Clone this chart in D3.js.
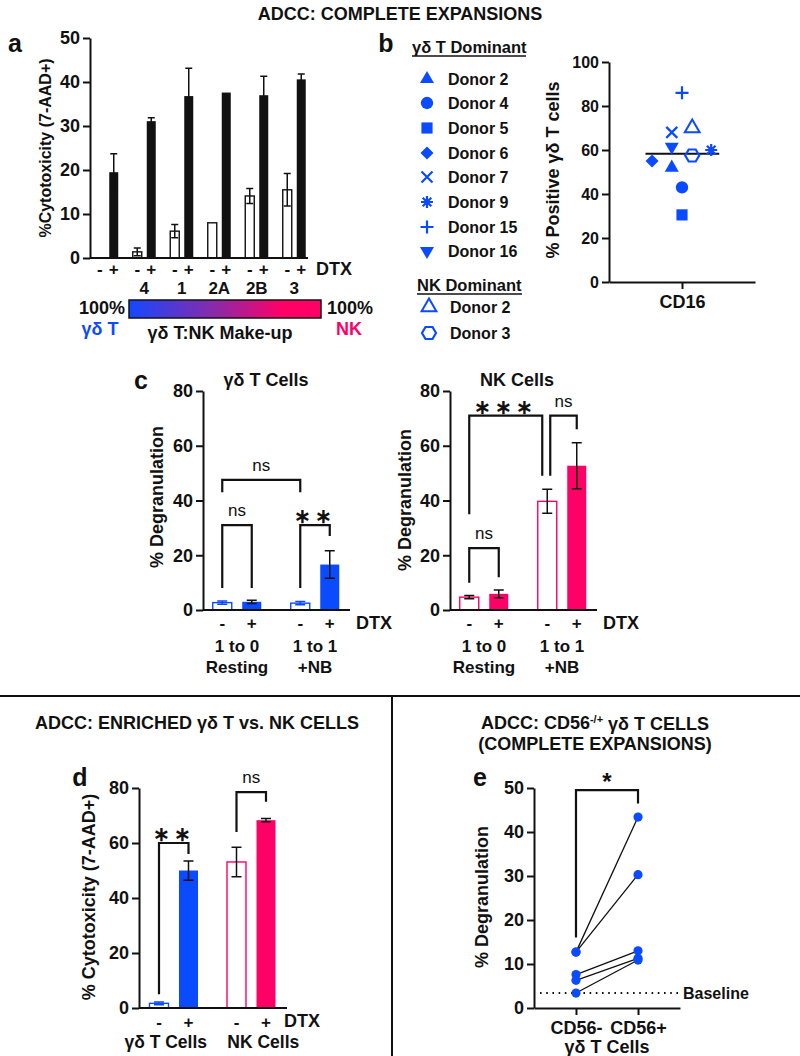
<!DOCTYPE html>
<html>
<head>
<meta charset="utf-8">
<script src="https://cdn.jsdelivr.net/npm/d3@7"></script>
<style>
  body { margin: 0; background: #fff; }
  svg text { font-family: "Liberation Sans", Arial, sans-serif; font-weight: bold; fill: #111; }
</style>
</head>
<body>
<svg id="fig" width="800" height="1056"></svg>
<script>
// ---- data: panel a (complete expansions, % cytotoxicity) ----
const aGroups = ["", "4", "1", "2A", "2B", "3"];
const aMinus = [0, 1.4, 6.1, 8.0, 14.1, 15.5];
const aMinusErr = [0, 0.9, 1.5, 0, 1.7, 3.7];
const aPlus = [19.5, 31.1, 36.8, 37.6, 37.0, 40.6];
const aPlusErr = [4.2, 0.8, 6.3, 0, 4.3, 1.2];
const aTicks = [0, 10, 20, 30, 40, 50];

// ---- data: panel b (% CD16+ gd T cells) ----
const bLabels = ["Donor 2", "Donor 4", "Donor 5", "Donor 6", "Donor 7", "Donor 9", "Donor 15", "Donor 16", "Donor 2", "Donor 3"];
const bShapes = ["triangle", "circle", "square", "diamond", "x", "asterisk", "plus", "triangleDown", "triangleOpen", "hexagonOpen"];
const bValues = [52, 43, 30.5, 55, 68, 60, 86, 61.5, 70, 57.5];
const bJitter = [-0.14, 0, 0, -0.41, -0.14, 0.40, 0, -0.14, 0.14, 0.14];
const bTicks = [0, 20, 40, 60, 80, 100];

// ---- data: panel c (% degranulation) ----
const cGroups = ["1 to 0", "1 to 1"];
const cGroupSub = ["Resting", "+NB"];
const gdMinus = [2.7, 2.5], gdMinusErr = [0.6, 0.6];
const gdPlus = [3.0, 16.6], gdPlusErr = [0.6, 5.0];
const nkMinus = [4.7, 39.7], nkMinusErr = [0.6, 4.4];
const nkPlus = [5.9, 52.7], nkPlusErr = [1.4, 8.4];
const cTicks = [0, 20, 40, 60, 80];

// ---- data: panel d (enriched, % cytotoxicity) ----
const dGroups = ["γδ T Cells", "NK Cells"];
const dMinus = [1.7, 53.1], dMinusErr = [0.5, 5.4];
const dPlus = [50.0, 68.3], dPlusErr = [3.5, 0.6];
const dTicks = [0, 20, 40, 60, 80];

// ---- data: panel e (CD56-/+ paired) ----
const eCats = ["CD56-", "CD56+"];
const eNeg = [12.7, 12.7, 7.6, 6.3, 3.4];
const ePos = [43.4, 30.3, 13.0, 11.3, 10.9];
const eBaseline = 3.4;
const eTicks = [0, 10, 20, 30, 40, 50];

const blue = "#0b4bff", pink = "#ff0066", ink = "#111";
const FONT = "Liberation Sans, Arial, sans-serif";
const svg = d3.select("#fig");

const txt = (x, y, s, size, opt = {}) => svg.append("text")
  .attr("x", x).attr("y", y).attr("dy", "0.35em")
  .attr("font-size", size)
  .attr("text-anchor", opt.anchor || "middle")
  .style("font-weight", opt.weight || "bold")
  .style("fill", opt.fill || ink)
  .text(s);

const yTitle = (x, y, s, size = 18) => svg.append("text")
  .attr("transform", `translate(${x},${y}) rotate(-90)`)
  .attr("dy", "0.35em").attr("text-anchor", "middle")
  .attr("font-size", size).text(s);

const styleAxis = (ax, size) => {
  ax.attr("font-size", size).attr("font-family", FONT);
  ax.select(".domain").attr("stroke", ink).attr("stroke-width", 2);
  ax.selectAll(".tick line").attr("stroke", ink).attr("stroke-width", 2);
  ax.selectAll(".tick text").style("fill", ink);
};

const yAxis = (y, ticks, x, size = 18) => {
  const ax = svg.append("g").attr("transform", `translate(${x},0)`)
    .call(d3.axisLeft(y).tickValues(ticks).tickSize(7).tickPadding(3).tickSizeOuter(0));
  styleAxis(ax, size);
};

const hline = (x1, x2, y) => svg.append("line")
  .attr("x1", x1).attr("x2", x2).attr("y1", y).attr("y2", y)
  .attr("stroke", ink).attr("stroke-width", 2);

const bracket = (x1, x2, yTop, yA, yB, label, stars) => {
  svg.append("path").attr("d", `M${x1},${yA}V${yTop}H${x2}V${yB}`)
    .attr("fill", "none").attr("stroke", ink).attr("stroke-width", 2.2);
  if (stars) {
    txt((x1 + x2) / 2, yTop - 9, label, 20).attr("letter-spacing", 4);
  } else {
    txt((x1 + x2) / 2, yTop - 15, label, 17, { weight: "normal" });
  }
};

// grouped bars with open (-) and filled (+) bars
function barPanel(o) {
  const x = d3.scaleBand().domain(o.groups).range(o.range);
  const sub = d3.scalePoint().domain(["-", "+"]).range([-o.off, o.off]);
  const cx = (i, s) => x(o.groups[i]) + x.bandwidth() / 2 + sub(s);
  const rows = [];
  o.groups.forEach((g, i) => {
    rows.push({ i, s: "-", v: o.minus[i], e: o.minusErr[i] });
    rows.push({ i, s: "+", v: o.plus[i], e: o.plusErr[i] });
  });
  const g = svg.append("g");
  g.selectAll("rect").data(rows).join("rect")
    .attr("x", d => cx(d.i, d.s) - o.bw / 2)
    .attr("width", o.bw)
    .attr("y", d => o.y(d.v))
    .attr("height", d => o.y(0) - o.y(d.v))
    .attr("fill", d => d.s === "+" ? o.color[d.i] : "#fff")
    .attr("stroke", d => d.s === "+" ? "none" : o.color[d.i])
    .attr("stroke-width", 1.4);
  const errs = rows.filter(d => d.e > 0);
  const errCol = d => (d.s === "-" && o.openErr) ? o.openErr[d.i] : ink;
  g.selectAll("path.err").data(errs).join("path")
    .attr("class", "err")
    .attr("d", d => {
      const c = cx(d.i, d.s), t = o.y(d.v + d.e), b = o.y(d.v - d.e), w = o.cap;
      return `M${c},${t}V${b}M${c - w},${t}H${c + w}M${c - w},${b}H${c + w}`;
    })
    .attr("fill", "none").attr("stroke", errCol).attr("stroke-width", 1.5);
  hline(o.x0, o.x1, o.y(0));
  rows.forEach(d => txt(cx(d.i, d.s), o.y(0) + o.signDy, d.s, 17));
  return cx;
}

// ---------- titles & dividers ----------
txt(400, 14, "ADCC: COMPLETE EXPANSIONS", 18);
hline(0, 800, 696);
svg.append("line").attr("x1", 392).attr("x2", 392).attr("y1", 696).attr("y2", 1056)
  .attr("stroke", ink).attr("stroke-width", 2);

// ---------- panel a ----------
txt(15, 43, "a", 25);
const ya = d3.scaleLinear().domain([0, 50]).range([258, 38]);
yAxis(ya, aTicks, 90);
yTitle(45, 148, "%Cytotoxicity (7-AAD+)", 16);
const cxa = barPanel({
  groups: aGroups, minus: aMinus, minusErr: aMinusErr, plus: aPlus, plusErr: aPlusErr,
  y: ya, range: [88, 313], off: 7, bw: 9, cap: 3.5, color: aGroups.map(() => ink),
  x0: 90, x1: 308, signDy: 11
});
aGroups.forEach((g, i) => txt((cxa(i, "-") + cxa(i, "+")) / 2, 288, g, 17));
txt(316, 269, "DTX", 18, { anchor: "start" });

const defs = svg.append("defs");
const grad = defs.append("linearGradient").attr("id", "mk");
[[0, "#1448ff"], [0.45, "#8a2aa8"], [0.8, pink], [1, pink]].forEach(([o, c]) =>
  grad.append("stop").attr("offset", o).attr("stop-color", c));
svg.append("rect").attr("x", 129).attr("y", 300).attr("width", 192).attr("height", 18)
  .attr("fill", "url(#mk)").attr("stroke", ink).attr("stroke-width", 1.5);
txt(102, 308, "100%", 18);
txt(350, 308, "100%", 18);
txt(100, 329, "γδ T", 18, { fill: blue });
txt(220, 333, "γδ T:NK Make-up", 18);
txt(349, 329, "NK", 18, { fill: pink });

// ---------- panel b ----------
txt(386, 43, "b", 25);

function marker(sel, shape, x, y) {
  const g = sel.append("g").attr("transform", `translate(${x},${y})`);
  const sym = (t, s) => g.append("path").attr("d", d3.symbol(t, s)());
  const line = d => g.append("path").attr("d", d).attr("fill", "none")
    .attr("stroke", blue).attr("stroke-width", 2.2);
  if (shape === "triangle") sym(d3.symbolTriangle, 85).attr("fill", blue);
  if (shape === "triangleDown") sym(d3.symbolTriangle, 85).attr("fill", blue).attr("transform", "rotate(180)");
  if (shape === "circle") sym(d3.symbolCircle, 120).attr("fill", blue);
  if (shape === "square") sym(d3.symbolSquare, 125).attr("fill", blue);
  if (shape === "diamond") g.append("path").attr("d", "M0,-6.5L6.5,0L0,6.5L-6.5,0Z").attr("fill", blue);
  if (shape === "x") line("M-5.5,-5.5L5.5,5.5M-5.5,5.5L5.5,-5.5");
  if (shape === "plus") line("M-6.5,0H6.5M0,-6.5V6.5");
  if (shape === "asterisk") line("M-6,0H6M0,-6V6M-4.3,-4.3L4.3,4.3M-4.3,4.3L4.3,-4.3");
  if (shape === "triangleOpen") sym(d3.symbolTriangle, 95).attr("fill", "none").attr("stroke", blue).attr("stroke-width", 2);
  if (shape === "hexagonOpen") line("M7,0L3.5,6L-3.5,6L-7,0L-3.5,-6L3.5,-6Z");
}

// legend
txt(412, 47, "γδ T Dominant", 16.5, { anchor: "start" });
svg.append("line").attr("x1", 412).attr("x2", 526).attr("y1", 56).attr("y2", 56).attr("stroke", ink).attr("stroke-width", 1.5);
txt(417, 285, "NK Dominant", 16.5, { anchor: "start" });
svg.append("line").attr("x1", 417).attr("x2", 522).attr("y1", 294).attr("y2", 294).attr("stroke", ink).attr("stroke-width", 1.5);
const legY = [79, 103, 128, 153, 177, 202, 227, 251, 307, 333];
const legG = svg.append("g");
bLabels.forEach((lab, i) => {
  const xm = i < 8 ? 427 : 429;
  marker(legG, bShapes[i], xm, legY[i]);
  txt(xm + 21, legY[i], lab, 16, { anchor: "start" });
});

// scatter
const yb = d3.scaleLinear().domain([0, 100]).range([282, 62]);
const xb = d3.scaleLinear().domain([-1, 1]).range([609, 755]);
yAxis(yb, bTicks, 609, 16);
const bx = svg.append("g").attr("transform", `translate(0,${yb(0)})`)
  .call(d3.axisBottom(xb).tickValues([0]).tickFormat(() => "CD16").tickSize(7).tickPadding(6).tickSizeOuter(0));
styleAxis(bx, 18);
yTitle(553, 170, "% Positive γδ T cells");
const bMean = d3.mean(bValues);
hline(xb(-0.5), xb(0.51), yb(bMean));
const sg = svg.append("g");
bValues.forEach((v, i) => marker(sg, bShapes[i], xb(bJitter[i]), yb(v)));

// ---------- panel c ----------
txt(141, 380, "c", 25);
const yc = d3.scaleLinear().domain([0, 80]).range([610, 391]);

// left: gd T cells
txt(266, 380, "γδ T Cells", 18);
yAxis(yc, cTicks, 203);
yTitle(157, 497, "% Degranulation");
const cxl = barPanel({
  groups: cGroups, minus: gdMinus, minusErr: gdMinusErr, plus: gdPlus, plusErr: gdPlusErr,
  y: yc, range: [198, 354], off: 14.75, bw: 19, cap: 5, color: [blue, blue], openErr: [blue, blue],
  x0: 203, x1: 350, signDy: 13
});
txt(356, 623, "DTX", 18, { anchor: "start" });
cGroups.forEach((g, i) => {
  const c = (cxl(i, "-") + cxl(i, "+")) / 2;
  txt(c, 646, g, 17);
  txt(c, 667, cGroupSub[i], 17);
});
bracket(cxl(0, "-"), cxl(0, "+"), yc(31), yc(8), yc(8), "ns");
bracket(cxl(1, "-"), cxl(1, "+"), yc(31), yc(8), yc(27), "∗∗", true);
bracket(cxl(0, "-"), cxl(1, "-"), yc(47.5), yc(43), yc(43), "ns");

// right: NK cells
txt(517, 380, "NK Cells", 18);
yAxis(yc, cTicks, 450);
yTitle(405, 500, "% Degranulation");
const cxr = barPanel({
  groups: cGroups, minus: nkMinus, minusErr: nkMinusErr, plus: nkPlus, plusErr: nkPlusErr,
  y: yc, range: [445, 601], off: 14.75, bw: 19, cap: 5, color: [pink, pink],
  x0: 450, x1: 597, signDy: 13
});
txt(603, 623, "DTX", 18, { anchor: "start" });
cGroups.forEach((g, i) => {
  const c = (cxr(i, "-") + cxr(i, "+")) / 2;
  txt(c, 646, g, 17);
  txt(c, 667, cGroupSub[i], 17);
});
bracket(cxr(0, "-"), cxr(0, "+"), yc(22.6), yc(10), yc(12), "ns");
bracket(cxr(0, "-"), cxr(1, "-") - 5, yc(71), yc(35), yc(49), "∗∗∗", true);
bracket(cxr(1, "-") + 3, cxr(1, "+"), yc(71), yc(49), yc(66), "ns");

// ---------- panel d ----------
txt(197, 723, "ADCC: ENRICHED γδ T vs. NK CELLS", 18);
txt(80, 777, "d", 25);
const yd = d3.scaleLinear().domain([0, 80]).range([1008, 788]);
yAxis(yd, dTicks, 139);
yTitle(89, 897, "% Cytotoxicity (7-AAD+)");
const cxd = barPanel({
  groups: dGroups, minus: dMinus, minusErr: dMinusErr, plus: dPlus, plusErr: dPlusErr,
  y: yd, range: [135, 290], off: 14.75, bw: 19, cap: 5, color: [blue, pink], openErr: [blue, ink],
  x0: 139, x1: 287, signDy: 14
});
txt(284, 1021, "DTX", 18, { anchor: "start" });
dGroups.forEach((g, i) => txt((cxd(i, "-") + cxd(i, "+")) / 2 + (i === 0 ? -8 : 12), 1042, g, 17.5));
bracket(cxd(0, "-"), cxd(0, "+"), yd(60), yd(5), yd(56), "∗∗", true);
bracket(cxd(1, "-"), cxd(1, "+"), yd(78.5), yd(64), yd(75), "ns");

// ---------- panel e ----------
const et = svg.append("text").attr("x", 595).attr("y", 723).attr("dy", "0.35em")
  .attr("text-anchor", "middle").attr("font-size", 18);
et.append("tspan").text("ADCC: CD56");
et.append("tspan").attr("font-size", 11).attr("dy", "-0.6em").text("-/+");
et.append("tspan").attr("dy", "0.4em").text(" γδ T CELLS");
txt(595, 744, "(COMPLETE EXPANSIONS)", 18);
txt(480, 777, "e", 25);
const ye = d3.scaleLinear().domain([0, 50]).range([1008, 788]);
const xe = d3.scalePoint().domain(eCats).range([534, 680]).padding(0.677);
yAxis(ye, eTicks, 534);
const ex = svg.append("g").attr("transform", `translate(0,${ye(0)})`)
  .call(d3.axisBottom(xe).tickSize(7).tickPadding(6).tickSizeOuter(0));
styleAxis(ex, 18);
txt(607, 1047, "γδ T Cells", 18);
yTitle(482, 897, "% Degranulation");
svg.append("line").attr("x1", 540).attr("x2", 680).attr("y1", ye(eBaseline)).attr("y2", ye(eBaseline))
  .attr("stroke", ink).attr("stroke-width", 2).attr("stroke-dasharray", "1.6,4.6");
txt(683, ye(eBaseline), "Baseline", 16, { anchor: "start" });
const pairs = eNeg.map((v, i) => [v, ePos[i]]);
svg.append("g").selectAll("line").data(pairs).join("line")
  .attr("x1", xe("CD56-")).attr("x2", xe("CD56+"))
  .attr("y1", d => ye(d[0])).attr("y2", d => ye(d[1]))
  .attr("stroke", ink).attr("stroke-width", 1.3);
const pts = [...eNeg.map(v => ["CD56-", v]), ...ePos.map(v => ["CD56+", v])];
svg.append("g").selectAll("circle").data(pts).join("circle")
  .attr("cx", d => xe(d[0])).attr("cy", d => ye(d[1])).attr("r", 4.6).attr("fill", blue);
svg.append("path").attr("d", `M${xe("CD56-")},${ye(16)}V${ye(49.5)}H${xe("CD56+")}V${ye(46.5)}`)
  .attr("fill", "none").attr("stroke", ink).attr("stroke-width", 2.2);
txt(607, 782, "*", 24);
</script>
</body>
</html>
